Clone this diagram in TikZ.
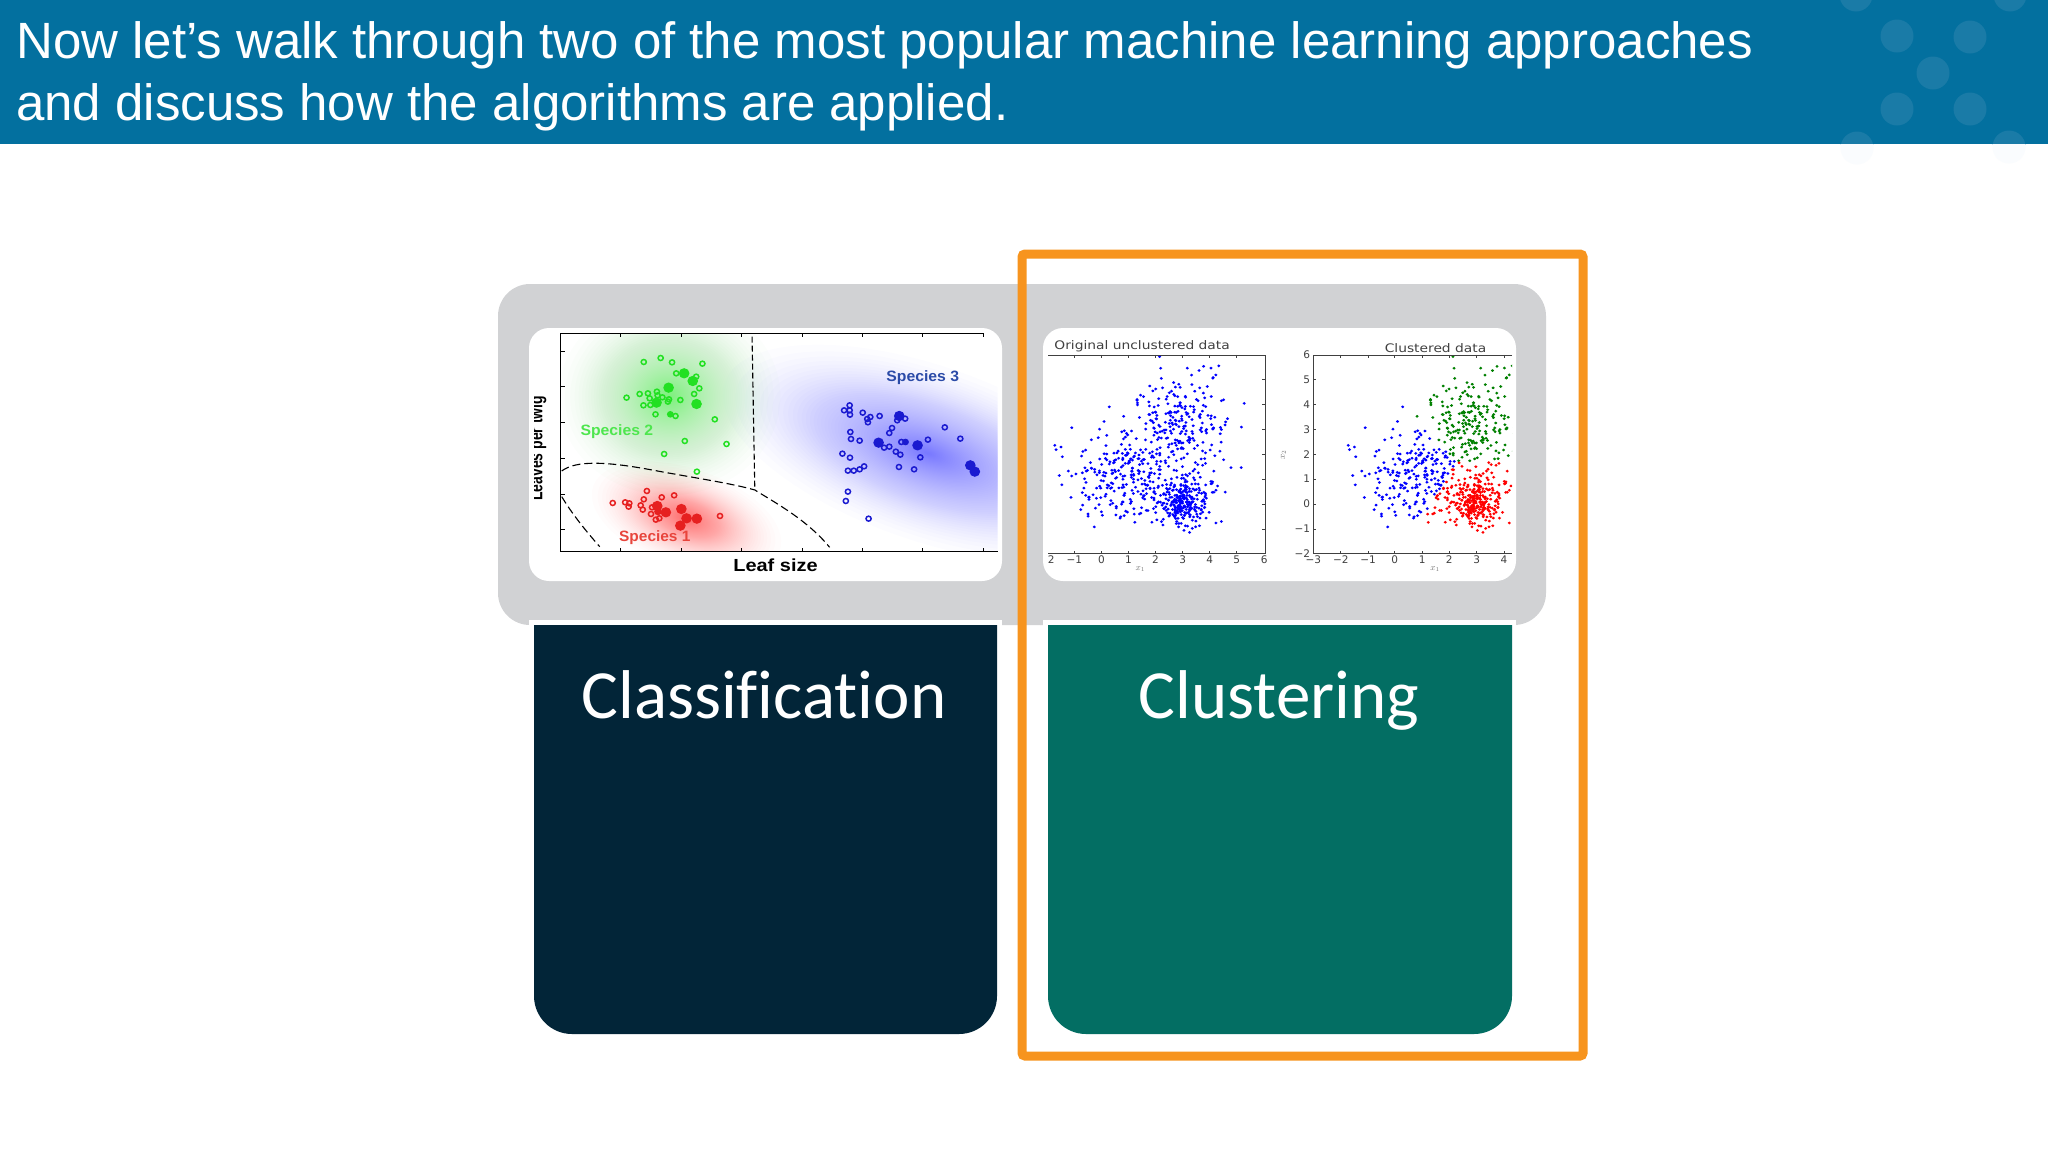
\documentclass[tikz,border=0pt]{standalone}
\usepackage{graphicx}
\usepackage{fontspec}
\setmainfont{Liberation Sans}
\newfontfamily\calfont[Ligatures=NoCommon]{Carlito}
\newfontfamily\verafont{DejaVu Sans}
\definecolor{headblue}{HTML}{03709F}
\definecolor{headdot}{HTML}{1A7BA7}
\definecolor{headfaint}{HTML}{FAFCFE}
\definecolor{panelgrey}{HTML}{D1D2D4}
\definecolor{navybox}{HTML}{022538}
\definecolor{tealbox}{HTML}{036E63}
\definecolor{frameorange}{HTML}{F7941E}
\definecolor{spgreen}{HTML}{22E022}
\definecolor{spred}{HTML}{E62020}
\definecolor{spblue}{HTML}{1A1AD0}
\definecolor{splabelblue}{HTML}{2B4BA8}
\definecolor{splabelred}{HTML}{E8453C}
\definecolor{glowgreen}{HTML}{30F030}
\tikzset{
  card/.style={fill=white,rounded corners=20pt},
  gdot/.style={draw=spgreen,line width=1.5pt},
  rdot/.style={draw=spred,line width=1.5pt},
  bdot/.style={draw=spblue,line width=1.5pt},
  ticktext/.style={font=\verafont\fontsize{10.5}{12}\selectfont,text=black!75,inner sep=0pt},
  axisline/.style={draw=black!75,line width=0.9pt},
}
% one point cloud: n, cx, cy, sx, sy, rho, xorigin, colour mode
\newcommand{\cloudpart}[8]{%
  \foreach \k in {1,...,#1}{%
    \pgfmathsetmacro\ua{0.002+0.998*rnd}%
    \pgfmathsetmacro\ub{rnd}%
    \pgfmathsetmacro\rr{sqrt(-2*ln(\ua))}%
    \pgfmathsetmacro\za{\rr*cos(360*\ub)}%
    \pgfmathsetmacro\zb{\rr*sin(360*\ub)}%
    \pgfmathsetmacro\px{#2+#4*\za}%
    \pgfmathsetmacro\py{#3+#5*(#6*\za+sqrt(1-#6*#6)*\zb)}%
    \pgfmathsetmacro\da{(\px-2.95)*(\px-2.95)+(\py-0.1)*(\py-0.1)}%
    \pgfmathsetmacro\db{(\px-3)*(\px-3)+(\py-3.3)*(\py-3.3)}%
    \pgfmathsetmacro\dc{(\px-0.55)*(\px-0.55)+(\py-1.35)*(\py-1.35)}%
    \pgfmathtruncatemacro\cidx{\da<\db ? (\da<\dc ? 1 : 3) : (\db<\dc ? 2 : 3)}%
    \ifnum#8=0 \def\dotc{blue}\else
      \ifcase\cidx\or\def\dotc{red}\or\def\dotc{green!50!black}\or\def\dotc{blue}\fi
    \fi
    \fill[\dotc] ({#7+73.5*\px},{792-74.5*\py}) circle[radius=4.4];
  }%
}
\newcommand{\cloud}[2]{%
  \pgfmathsetseed{4711}%
  \cloudpart{280}{3.0}{0.1}{0.5}{0.5}{0}{#1}{#2}%
  \cloudpart{230}{3.0}{3.3}{0.85}{1.05}{0}{#1}{#2}%
  \cloudpart{260}{0.8}{1.25}{0.95}{0.95}{0.15}{#1}{#2}%
}
\begin{document}
\begin{tikzpicture}[x=1pt,y=-1pt]
\useasboundingbox (0,0) rectangle (2048,1152);
\fill[white] (0,0) rectangle (2048,1152);
% header
\fill[headblue] (0,0) rectangle (2048,144);
\begin{scope}
  \clip (0,0) rectangle (2048,144);
  \foreach \cx/\cy in {1856/-5,2010/-5,1897/36,1970/37,1933/73,1897/109,1970/109,1857/148,2009/147}
    \fill[headdot] (\cx,\cy) circle[radius=16.5];
\end{scope}
\begin{scope}
  \clip (0,144) rectangle (2048,170);
  \foreach \cx/\cy in {1857/148,2009/147}
    \fill[headfaint] (\cx,\cy) circle[radius=16.5];
\end{scope}
\node[anchor=base west,inner sep=0pt,text=white,font=\fontsize{51}{62}\selectfont] (titleone) at (16,58)
  {Now let’s walk through two of the most popular machine learning approaches};
\node[anchor=base west,inner sep=0pt,text=white,font=\fontsize{51}{62}\selectfont] (titletwo) at (16,120)
  {and discuss how the algorithms are applied.};
% grey panel
\fill[panelgrey,rounded corners=32pt] (498,284) rectangle (1546,625);
% white strips above the boxes
\fill[white] (529,620) rectangle (1002,626);
\fill[white] (1043,620) rectangle (1516,626);
% boxes
\fill[navybox] (534,625) -- (997,625) [rounded corners=38pt] -- (997,1034) -- (534,1034) [sharp corners] -- cycle;
\fill[tealbox] (1048,625) -- (1512,625) [rounded corners=38pt] -- (1512,1034) -- (1048,1034) [sharp corners] -- cycle;
\node[text=white,font=\calfont\fontsize{69}{72}\selectfont,anchor=base,inner sep=0pt] (classlabel) at (764,718) {Classification};
\node[text=white,font=\calfont\fontsize{69}{72}\selectfont,anchor=base,inner sep=0pt] (clustlabel) at (1279,718) {Clustering};
% cards
\fill[card] (529,328) rectangle (1002,581);
\fill[card] (1043,328) rectangle (1516,581);

% classification plot
\begin{scope}[shift={(490,270)},xscale=0.3448,yscale=0.3333]
  \begin{scope}
    \clip (207,192) rectangle (1472,843);
    \foreach \t in {0.0167,0.0333,...,1.0}{
      \pgfmathsetmacro\s{1-sqrt(\t)}
      \fill[glowgreen,fill opacity=0.011] (520,380) ellipse[x radius=370*\s,y radius=340*\s];
      \begin{scope}[shift={(570,745)},rotate=-20]
        \fill[red,fill opacity=0.013] (0,0) ellipse[x radius=330*\s,y radius=170*\s];
      \end{scope}
      \begin{scope}[shift={(1270,550)},rotate=-20]
        \fill[blue!85!white,fill opacity=0.011] (0,0) ellipse[x radius=720*\s,y radius=300*\s];
      \end{scope}
    }
  \end{scope}
  % axes
  \draw[black,line width=1.2pt] (205,190) -- (1432,190);
  \draw[black,line width=1.2pt] (205,190) -- (205,845) -- (1472,845);
  \foreach \tx in {378,555,730,905,1080,1255,1430}{
    \draw[black,line width=0.7pt] (\tx,190) -- (\tx,202);
    \draw[black,line width=0.7pt] (\tx,845) -- (\tx,833);
  }
  \foreach \ty in {243,350,458,565,672,778}
    \draw[black,line width=0.7pt] (205,\ty) -- (217,\ty);
  % boundaries
  \draw[black,line width=1.1pt,dash pattern=on 6pt off 3pt] (760,200) -- (768,660);
  \draw[black,line width=1.1pt,dash pattern=on 8pt off 4pt] (208,603) .. controls (250,570) and (340,575) .. (470,600) .. controls (600,625) and (700,640) .. (768,660) .. controls (830,700) and (920,750) .. (985,832);
  \draw[black,line width=1.1pt,dash pattern=on 8pt off 4pt] (208,680) .. controls (240,735) and (280,785) .. (318,830);
  % green points
  \foreach \gx/\gy in {446/276,495/264,528/277,616/281,540/310,598/320,607/355,592/372,434/372,458/370,484/365,486/376,396/383,463/385,500/382,519/388,552/390,445/406,465/405,516/395,480/433,538/438,652/448,565/513,686/522,505/552,600/605}
    \draw[gdot] (\gx,\gy) circle[radius=7.5];
  \foreach \gx/\gy in {563/310,588/333,518/353,483/398,599/402}
    \fill[spgreen] (\gx,\gy) circle[radius=15.5];
  \fill[spgreen] (523,433) circle[radius=10];
  % red points
  \foreach \rx/\ry in {455/663,534/676,498/682,446/688,356/699,392/697,404/700,402/710,437/706,443/719,470/712,467/732,491/745,481/749,667/738}
    \draw[rdot] (\rx,\ry) circle[radius=7.5];
  \foreach \rx/\ry in {485/708,510/727,555/717,570/745,600/746,552/767}
    \fill[spred] (\rx,\ry) circle[radius=15.5];
  \fill[spred] (487,725) circle[radius=11];
  % blue points
  \foreach \bx/\by in {1043/406,1027/421,1043/421,1044/434,1081/428,1103/441,1094/447,1096/457,1130/438,1181/451,1204/446,1166/474,1158/489,1045/486,1047/507,1072/512,1319/472,1364/506,1270/509,1193/516,1143/533,1158/530,1177/545,1190/554,1248/562,1022/551,1044/563,1038/602,1055/602,1072/598,1085/589,1186/591,1230/598,1038/665,1032/693,1098/746}
    \draw[bdot] (\bx,\by) circle[radius=7.5];
  \foreach \bx/\by in {1187/438,1127/518,1240/526,1393/586,1406/605}
    \fill[spblue] (\bx,\by) circle[radius=15.5];
  \fill[spblue] (1205,516) circle[radius=10];
  % labels
  \node[font=\bfseries\fontsize{15}{17}\selectfont,text=spgreen!80!white,inner sep=0pt] (sptwo) at (368,485) {\scalebox{1.05}[1]{Species 2}};
  \node[font=\bfseries\fontsize{15}{17}\selectfont,text=splabelred,inner sep=0pt] (spone) at (478,803) {\scalebox{1.03}[1]{Species 1}};
  \node[font=\bfseries\fontsize{15}{17}\selectfont,text=splabelblue,inner sep=0pt] (spthree) at (1255,323) {\scalebox{1.05}[1]{Species 3}};
  \node[font=\bfseries\fontsize{17.5}{20}\selectfont,inner sep=0pt] (leaflabel) at (828,885) {\scalebox{1.14}[1]{Leaf size}};
  \node[font=\bfseries\fontsize{14}{17}\selectfont,inner sep=0pt,rotate=90,anchor=base] (ylabel) at (152,535) {\scalebox{1}[1.35]{Leaves per twig}};
  % the card's edge cuts the tops of this label's letters
  \fill[white] (112,360) rectangle (127,710);
  \fill[panelgrey] (105,360) rectangle (112,710);
\end{scope}

% clustering plots
\begin{scope}[shift={(1020,240)},xscale=0.37,yscale=0.3333]
  % left panel
  \begin{scope}
    \clip (76,346) rectangle (661,939);
    \cloud{220}{0}
  \end{scope}
  \draw[axisline] (76,345) -- (662,345) -- (662,940) -- (76,940);
  \foreach \tx/\tl in {220/0,293/1,366/2,440/3,513/4,586/5,660/6}
    \node[ticktext] (la\tl) at (\tx,958) {\tl};
  \node[ticktext] (lam) at (147,958) {−1};
  \node[ticktext] (lan) at (84,958) {2};
  \foreach \tx in {147,220,293,366,440,513,586}{
    \draw[axisline] (\tx,345) -- (\tx,353);
    \draw[axisline] (\tx,940) -- (\tx,932);
  }
  \foreach \ty in {419,494,568,643,717,792,867}
    \draw[axisline] (662,\ty) -- (654,\ty);
  \node[ticktext,font=\verafont\fontsize{11.8}{13}\selectfont] (titleorig) at (330,318) {\scalebox{1.17}[1]{Original unclustered data}};
  \node[ticktext,font=\itshape\fontsize{9}{10}\selectfont,text=black!55] (xone) at (325,987) {$x_1$};
  % right panel
  \begin{scope}
    \clip (794,346) rectangle (1330,939);
    \cloud{1013}{1}
  \end{scope}
  \draw[axisline] (1330,345) -- (793,345) -- (793,940) -- (1330,940);
  \foreach \tx/\tl in {1013/0,1087/1,1160/2,1234/3,1308/4}
    \node[ticktext] (lb\tl) at (\tx,958) {\tl};
  \node[ticktext] (lbc) at (793,958) {−3};
  \node[ticktext] (lbb) at (867,958) {−2};
  \node[ticktext] (lba) at (941,958) {−1};
  \foreach \tx in {867,941,1013,1087,1160,1234,1308}{
    \draw[axisline] (\tx,345) -- (\tx,353);
    \draw[axisline] (\tx,940) -- (\tx,932);
  }
  \foreach \ty/\tl in {345/6,419/5,494/4,568/3,643/2,717/1,792/0}{
    \node[ticktext] (lc\tl) at (775,\ty) {\tl};
    \draw[axisline] (793,\ty) -- (801,\ty);
  }
  \node[ticktext] (lcm) at (763,867) {−1};
  \draw[axisline] (793,867) -- (801,867);
  \node[ticktext] (lcn) at (763,940) {−2};
  \node[ticktext,font=\verafont\fontsize{11.8}{13}\selectfont] (titleclust) at (1123,323) {\scalebox{1.17}[1]{Clustered data}};
  \node[ticktext,font=\itshape\fontsize{9}{10}\selectfont,text=black!55] (xonb) at (1122,987) {$x_1$};
  \node[ticktext,font=\itshape\fontsize{9}{10}\selectfont,text=black!55,rotate=90] (xtwo) at (712,645) {$x_2$};
\end{scope}

% orange frame
\draw[frameorange,line width=9pt,rounded corners=3pt] (1022,254) rectangle (1583,1056);
\end{tikzpicture}
\end{document}
